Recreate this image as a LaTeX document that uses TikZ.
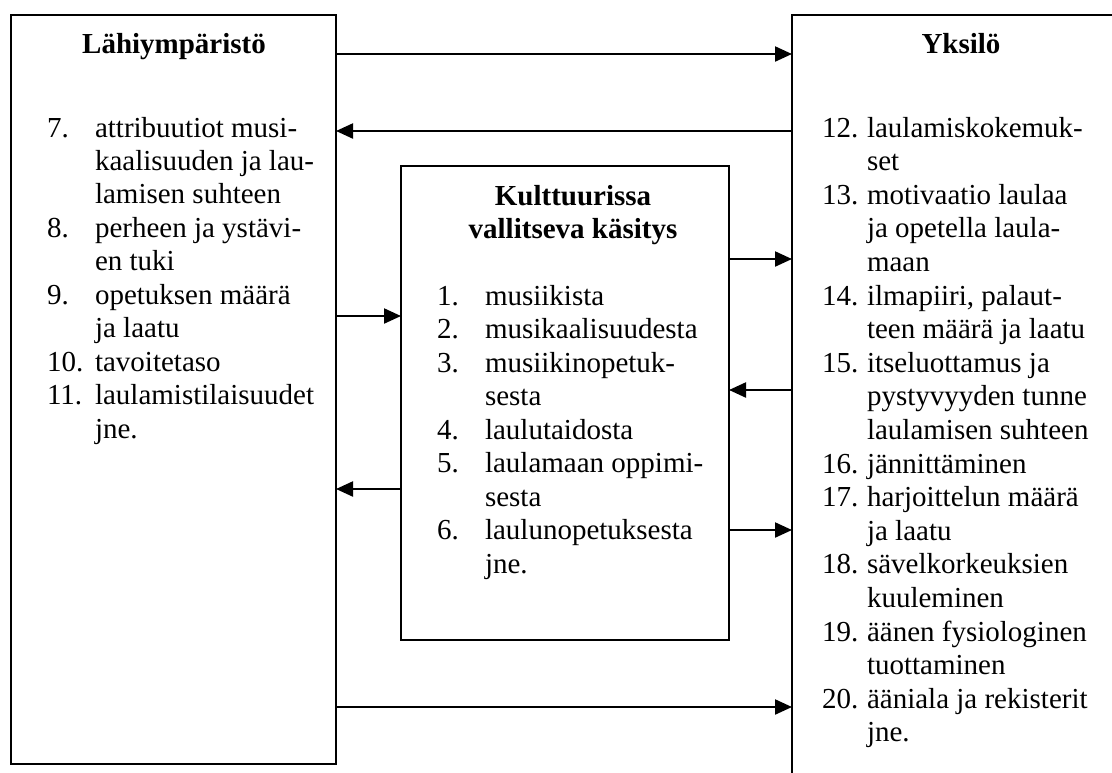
\documentclass[tikz,border=0pt]{standalone}
\usepackage{fontspec}
\setmainfont{Liberation Serif}
\usetikzlibrary{arrows.meta}
\begin{document}
\begin{tikzpicture}[x=1pt,y=-1pt,
  box/.style={draw=black,line width=2.2pt,inner sep=0pt,outer sep=0pt,fill=none},
  txt/.style={inner sep=0pt,outer sep=0pt,anchor=base west,font=\fontsize{29}{34}\selectfont},
  ttl/.style={inner sep=0pt,outer sep=0pt,anchor=base,font=\fontsize{29}{34}\selectfont\bfseries},
  arr/.style={line width=2.2pt,-{Triangle[length=17pt,width=15pt]}}]
\useasboundingbox (0,0) rectangle (1112,772);
\clip (0,0) rectangle (1112,772);
\fill[white] (0,0) rectangle (1112,772);
% boxes
\node[box,minimum width=325pt,minimum height=749pt] (L) at (173.5,389.5) {};
\node[box,minimum width=328pt,minimum height=474pt] (M) at (565,403) {};
\node[box,minimum width=360pt,minimum height=800pt] (R) at (972,415) {};
% titles
\node[ttl] (tL) at (174,53) {Lähiympäristö};
\node[ttl] (tR) at (961,53) {Yksilö};
\node[ttl] (tM1) at (573,205) {Kulttuurissa};
\node[ttl] (tM2) at (573,238) {vallitseva käsitys};
% left list
\foreach \t [count=\i from 0] in {attribuutiot musi-,kaalisuuden ja lau-,lamisen suhteen,perheen ja ystävi-,en tuki,opetuksen määrä,ja laatu,tavoitetaso,laulamistilaisuudet,jne.}
  \node[txt] (lt\i) at (95,137+33.45*\i) {\t};
\foreach \n/\k in {7./0,8./3,9./5,10./7,11./8}
  \node[txt] (ln\k) at (47,137+33.45*\k) {\n};
% middle list
\foreach \t [count=\i from 0] in {musiikista,musikaalisuudesta,musiikinopetuk-,sesta,laulutaidosta,laulamaan oppimi-,sesta,laulunopetuksesta,jne.}
  \node[txt] (mt\i) at (485,305+33.5*\i) {\t};
\foreach \n/\k in {1./0,2./1,3./2,4./4,5./5,6./7}
  \node[txt] (mn\k) at (437,305+33.5*\k) {\n};
% right list
\foreach \t [count=\i from 0] in {laulamiskokemuk-,set,motivaatio laulaa,ja opetella laula-,maan,{ilmapiiri, palaut-},teen määrä ja laatu,itseluottamus ja,pystyvyyden tunne,laulamisen suhteen,jännittäminen,harjoittelun määrä,ja laatu,sävelkorkeuksien,kuuleminen,äänen fysiologinen,tuottaminen,ääniala ja rekisterit,jne.}
  \node[txt] (rt\i) at (867,137+33.6*\i) {\t};
\foreach \n/\k in {12./0,13./2,14./5,15./7,16./10,17./11,18./13,19./15,20./17}
  \node[txt] (rn\k) at (822,137+33.6*\k) {\n};
% connector levels
\coordinate (h1) at (0,54);
\coordinate (h2) at (0,131);
\coordinate (h3) at (0,259);
\coordinate (h4) at (0,390);
\coordinate (h5) at (0,316);
\coordinate (h6) at (0,489);
\coordinate (h7) at (0,530);
\coordinate (h8) at (0,707);
% connectors
\draw[arr] (L.east |- h1) -- (R.west |- h1);
\draw[arr] (R.west |- h2) -- (L.east |- h2);
\draw[arr] (M.east |- h3) -- (R.west |- h3);
\draw[arr] (R.west |- h4) -- (M.east |- h4);
\draw[arr] (L.east |- h5) -- (M.west |- h5);
\draw[arr] (M.west |- h6) -- (L.east |- h6);
\draw[arr] (M.east |- h7) -- (R.west |- h7);
\draw[arr] (L.east |- h8) -- (R.west |- h8);
\end{tikzpicture}
\end{document}
